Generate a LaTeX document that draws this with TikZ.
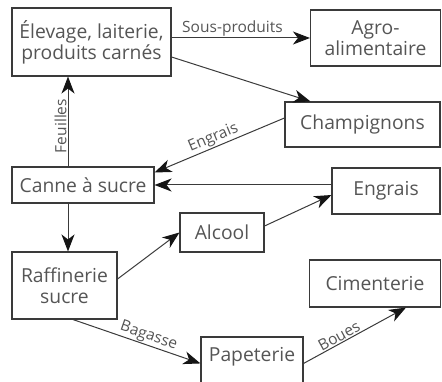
\documentclass[tikz,border=0pt]{standalone}
\usepackage{fontspec}
\setmainfont{Open Sans}
\usetikzlibrary{arrows.meta}
\definecolor{txt}{HTML}{555555}
\definecolor{ln}{HTML}{3a3a3a}
\definecolor{tip}{HTML}{151515}
\tikzset{
  box/.style={draw=ln, line width=1.1pt, text=txt, align=center, inner sep=0pt,
    font=\fontsize{19.3}{21}\selectfont},
  arr/.style={draw=ln, line width=1pt, -{Stealth[length=17pt,width=13pt,inset=5pt,color=tip]}},
  lab/.style={text=txt, font=\fontsize{15.5}{17}\selectfont, inner sep=1pt}
}
\begin{document}
\begin{tikzpicture}[x=1pt,y=1pt]
\useasboundingbox (0,0) rectangle (442,-382);
\clip (0,0) rectangle (442,-382);
\node[box, minimum width=159, minimum height=68] (elev) at (91.5,-42) {Élevage, laiterie,\\produits carnés};
\node[box, minimum width=130, minimum height=56] (agro) at (375.5,-38) {Agro-\\alimentaire};
\node[box, minimum width=155, minimum height=45] (champ) at (362.5,-124.5) {Champignons};
\node[box, minimum width=108, minimum height=46] (engrais) at (386,-191) {Engrais};
\node[box, minimum width=142, minimum height=36] (canne) at (83,-185) {Canne à sucre};
\node[box, minimum width=105, minimum height=67] (raff) at (64.5,-285.5) {Raffinerie\\sucre};
\node[box, minimum width=84, minimum height=39] (alcool) at (222,-232.5) {Alcool};
\node[box, minimum width=131, minimum height=47] (cim) at (375,-283.5) {Cimenterie};
\node[box, minimum width=102, minimum height=55, text height=12pt, text depth=18pt] (pap) at (252,-364.5) {Papeterie};

\draw[arr] (elev.east |- agro.west) -- node[lab, above, pos=0.44] {Sous-produits} (agro.west);
\draw[arr] ([yshift=-15]elev.east) -- ([xshift=26]champ.north west);
\draw[arr] ([yshift=6.5]champ.west) -- node[lab, sloped, above, pos=0.52] {Engrais} ([yshift=12.5]canne.east);
\draw[arr] (engrais.west |- canne.east) -- (canne.east);
\draw[arr] ([xshift=-15]canne.north) -- node[lab, sloped, above, pos=0.45] {Feuilles} ([xshift=-15]canne.north |- elev.south);
\draw[arr] ([xshift=-15]canne.south) -- ([xshift=-15]canne.south |- raff.north);
\draw[arr] ([yshift=6.5]raff.east) -- (alcool.west);
\draw[arr] ([yshift=6.5]alcool.east) -- ([yshift=-4]engrais.west);
\draw[arr] ([xshift=8.5]raff.south) -- node[lab, sloped, above, pos=0.57] {Bagasse} ([yshift=-27]pap.north west);
\draw[arr] ([yshift=-27]pap.north east) -- node[lab, sloped, above, pos=0.38] {Boues} ([xshift=31]cim.south);
\end{tikzpicture}
\end{document}
